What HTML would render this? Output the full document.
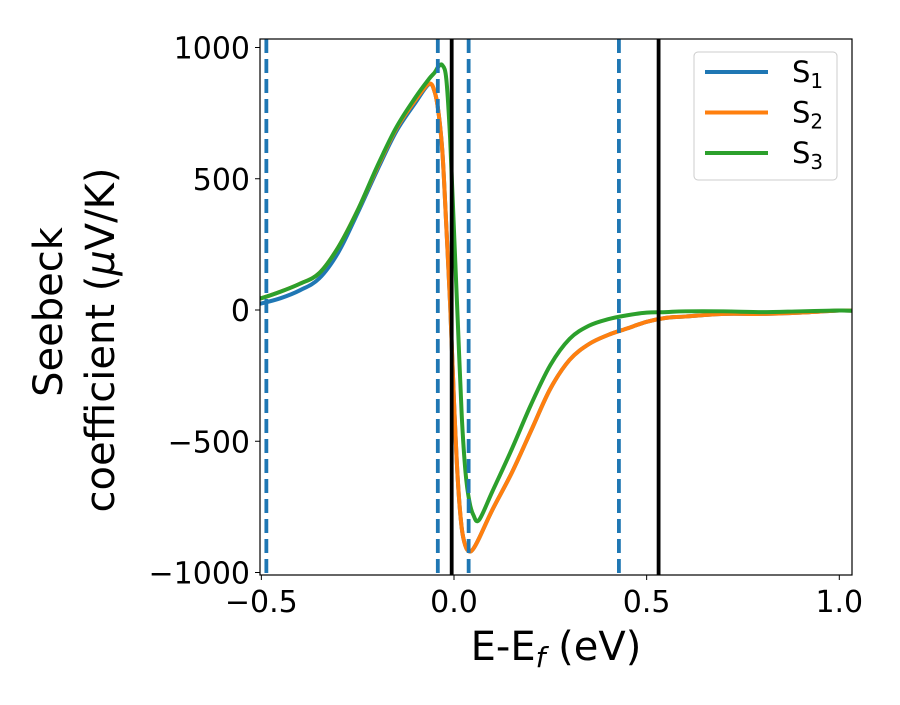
<!DOCTYPE html>
<html><head><meta charset="utf-8"><style>
body{margin:0;background:#fff}
svg text{font-family:"DejaVu Sans","Liberation Sans",sans-serif;fill:#000}
</style></head><body>
<svg id="chart" width="900" height="700" xmlns="http://www.w3.org/2000/svg">
<g id="lines"></g>
<g id="axes"></g>
</svg>
<script>
const xs=[-0.52,-0.5,-0.45,-0.4,-0.35,-0.3,-0.25,-0.2,-0.15,-0.1,-0.065,-0.05,-0.04,-0.03,-0.02,-0.01,0.0,0.01,0.02,0.03,0.04,0.05,0.065,0.1,0.15,0.2,0.25,0.3,0.35,0.4,0.45,0.5,0.55,0.6,0.7,0.8,0.9,1.0,1.04];
const s1=[20,25,45,75,120,220,370,530,680,790,860,830,750,600,320,20,-350,-650,-830,-900,-920,-910,-870,-760,-620,-460,-300,-190,-130,-95,-70,-45,-30,-25,-15,-15,-10,-2,-3];
const s2=[40,45,70,100,140,240,380,540,690,800,862,830,750,600,320,20,-350,-650,-830,-900,-920,-910,-870,-760,-620,-460,-300,-190,-130,-95,-70,-45,-30,-25,-15,-15,-10,-2,-3];
const s3=[40,45,70,100,140,240,380,545,695,810,880,905,928,932,880,650,300,-50,-400,-620,-730,-780,-800,-690,-530,-360,-210,-110,-60,-35,-20,-10,-8,-5,-5,-8,-5,-2,-3];
const dashedX=[-0.487,-0.042,0.038,0.428];
const solidX=[-0.006,0.531];
const xTicks=[-0.5,0.0,0.5,1.0];
const xTickLabels=["\u22120.5","0.0","0.5","1.0"];
const yTicks=[1000,500,0,-500,-1000];
const yTickLabels=["1000","500","0","\u2212500","\u22121000"];
const seriesNames=["1","2","3"];
const colors=["#1f77b4","#ff7f0e","#2ca02c"];

const L=260,R=852,T=39,B=575;
const X=v=>454+(v)*385.3;
const Y=v=>310-v*0.2625;
const NS="http://www.w3.org/2000/svg";
function mk(t,a,p){const e=document.createElementNS(NS,t);for(const k in a)e.setAttribute(k,a[k]);p.appendChild(e);return e;}
const lines=document.getElementById('lines'),axes=document.getElementById('axes');
const clip=mk('clipPath',{id:'pc'},lines);mk('rect',{x:L,y:T,width:R-L,height:B-T},clip);
const g=mk('g',{'clip-path':'url(#pc)'},lines);
function path(ys){const p=xs.map((x,i)=>[X(x),Y(ys[i])]);let d='M'+p[0][0]+','+p[0][1];
for(let i=0;i<p.length-1;i++){const p0=p[Math.max(0,i-1)],p1=p[i],p2=p[i+1],p3=p[Math.min(p.length-1,i+2)];
d+=' C'+(p1[0]+(p2[0]-p0[0])/6)+','+(p1[1]+(p2[1]-p0[1])/6)+' '+(p2[0]-(p3[0]-p1[0])/6)+','+(p2[1]-(p3[1]-p1[1])/6)+' '+p2[0]+','+p2[1];}return d;}
[s1,s2,s3].forEach((s,i)=>{const e=mk('path',{d:path(s),fill:'none',stroke:colors[i],'stroke-width':4,'stroke-linejoin':'round'},g);

});
dashedX.forEach(v=>{const e=mk('line',{x1:X(v),x2:X(v),y1:T,y2:B,stroke:'#1f77b4','stroke-width':3.8,'stroke-dasharray':'14,6'},g);

});
solidX.forEach(v=>{const e=mk('line',{x1:X(v),x2:X(v),y1:T,y2:B,stroke:'#000','stroke-width':3.8},g);

});
const fr=mk('rect',{x:L,y:T,width:R-L,height:B-T,fill:'none',stroke:'#000','stroke-width':1.2},axes);


xTicks.forEach((v,i)=>{mk('line',{x1:X(v),x2:X(v),y1:B,y2:B+5,stroke:'#000'},axes);
const t=mk('text',{x:X(v),y:B+37,'text-anchor':'middle','font-size':30},axes);t.textContent=xTickLabels[i];

});
yTicks.forEach((v,i)=>{mk('line',{x1:L-5,x2:L,y1:Y(v),y2:Y(v),stroke:'#000'},axes);
const t=mk('text',{x:L-10,y:Y(v)+11,'text-anchor':'end','font-size':30},axes);t.textContent=yTickLabels[i];

});
const lg=mk('g',{},axes);


mk('rect',{x:694,y:52,width:143,height:128,rx:4,fill:'#fff','fill-opacity':0.8,stroke:'#ccc'},lg);
seriesNames.forEach((n,i)=>{const y=72+i*40.5;
mk('line',{x1:705,x2:768,y1:y,y2:y,stroke:colors[i],'stroke-width':4},lg);
const t=mk('text',{x:792,y:y+10,'font-size':29},lg);t.innerHTML='S<tspan font-size="20" dy="6">'+n+'</tspan>';

});
</script>
<svg style="position:absolute;left:0;top:0" width="900" height="700" xmlns="http://www.w3.org/2000/svg">
<text x="556" y="660" text-anchor="middle" font-size="40">E-E<tspan font-size="28" dy="7" font-style="italic">f</tspan><tspan dy="-7"> (eV)</tspan></text>
<text transform="translate(62,312) rotate(-90)" text-anchor="middle" font-size="40">Seebeck</text>
<text transform="translate(114,340) rotate(-90)" text-anchor="middle" font-size="40">coefficient  (<tspan font-style="italic">μ</tspan>V/K)</text>
</svg>
</body></html>
